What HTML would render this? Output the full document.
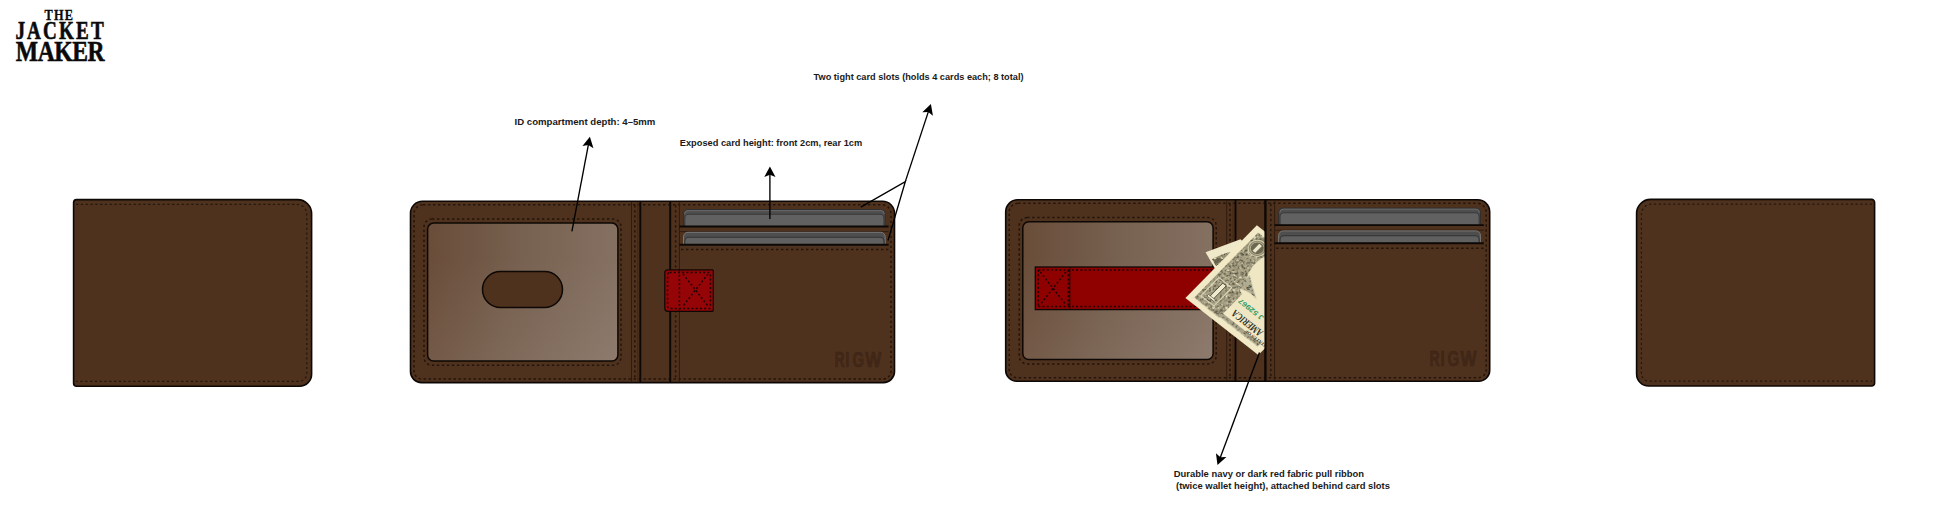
<!DOCTYPE html>
<html><head><meta charset="utf-8"><title>Wallet</title>
<style>
html,body{margin:0;padding:0;background:#fff;}
body{width:1946px;height:520px;overflow:hidden;position:relative;font-family:"Liberation Sans",sans-serif;}
svg{position:absolute;left:0;top:0;display:block;}
</style></head>
<body>
<svg width="1946" height="520" viewBox="0 0 1946 520">
<defs>
<linearGradient id="win" x1="0" y1="0" x2="1" y2="0">
<stop offset="0" stop-color="#694d39"/><stop offset="0.5" stop-color="#776150"/><stop offset="1" stop-color="#857162"/>
</linearGradient>
<linearGradient id="winv" x1="0" y1="0" x2="0" y2="1"><stop offset="0.25" stop-color="#fff" stop-opacity="0"/><stop offset="1" stop-color="#fff" stop-opacity="0.07"/></linearGradient>
<clipPath id="billclip" clipPathUnits="userSpaceOnUse"><rect x="1150" y="200" width="115.4" height="180"/></clipPath>
<filter id="engr" x="0" y="0" width="1" height="1" color-interpolation-filters="sRGB">
<feTurbulence type="fractalNoise" baseFrequency="0.42" numOctaves="2" seed="7" result="n"/>
<feColorMatrix in="n" type="matrix" values="0 0 0 0 0.35  0 0 0 0 0.335  0 0 0 0 0.26  4.5 0 0 0 -2.15" result="d"/>
<feComposite in="d" in2="SourceGraphic" operator="in" result="dm"/>
<feColorMatrix in="n" type="matrix" values="0 0 0 0 0.93  0 0 0 0 0.91  0 0 0 0 0.80  0 -4.5 0 0 2.0" result="l"/>
<feComposite in="l" in2="SourceGraphic" operator="in" result="lm"/>
<feMerge><feMergeNode in="SourceGraphic"/><feMergeNode in="lm"/><feMergeNode in="dm"/></feMerge>
</filter>
<filter id="engr2" x="0" y="0" width="1" height="1" color-interpolation-filters="sRGB">
<feTurbulence type="fractalNoise" baseFrequency="0.5" numOctaves="2" seed="11" result="n"/>
<feColorMatrix in="n" type="matrix" values="0 0 0 0 0.35  0 0 0 0 0.345  0 0 0 0 0.28  4.5 0 0 0 -2.4" result="d"/>
<feComposite in="d" in2="SourceGraphic" operator="in" result="dm"/>
<feMerge><feMergeNode in="SourceGraphic"/><feMergeNode in="dm"/></feMerge>
</filter>
</defs>
<text transform="translate(44.6,20.2) scale(0.82,1)" font-family="Liberation Serif, serif" font-weight="bold" font-size="15" textLength="34.6" lengthAdjust="spacing" fill="#0a0a0a" stroke="#0a0a0a" stroke-width="0.35">THE</text>
<text transform="translate(15.4,38.9) scale(0.78,1)" font-family="Liberation Serif, serif" font-weight="bold" font-size="24.5" textLength="113.3" lengthAdjust="spacing" fill="#0a0a0a" stroke="#0a0a0a" stroke-width="0.6">JACKET</text>
<text transform="translate(15.8,60.9) scale(0.8,1)" font-family="Liberation Serif, serif" font-weight="bold" font-size="29.5" textLength="111" lengthAdjust="spacing" fill="#0a0a0a" stroke="#0a0a0a" stroke-width="0.6">MAKER</text>
<text x="813.6" y="79.7" font-family="Liberation Sans, sans-serif" font-weight="bold" font-size="9.6" textLength="209.9" lengthAdjust="spacingAndGlyphs" fill="#1a1a1a">Two tight card slots (holds 4 cards each; 8 total)</text>
<text x="514.6" y="124.6" font-family="Liberation Sans, sans-serif" font-weight="bold" font-size="9.6" textLength="140.8" lengthAdjust="spacingAndGlyphs" fill="#1a1a1a">ID compartment depth: 4–5mm</text>
<text x="679.8" y="145.9" font-family="Liberation Sans, sans-serif" font-weight="bold" font-size="9.6" textLength="182.4" lengthAdjust="spacingAndGlyphs" fill="#1a1a1a">Exposed card height: front 2cm, rear 1cm</text>
<text x="1173.8" y="476.9" font-family="Liberation Sans, sans-serif" font-weight="bold" font-size="9.6" textLength="190.3" lengthAdjust="spacingAndGlyphs" fill="#1a1a1a">Durable navy or dark red fabric pull ribbon</text>
<text x="1176" y="489" font-family="Liberation Sans, sans-serif" font-weight="bold" font-size="9.6" textLength="214" lengthAdjust="spacingAndGlyphs" fill="#1a1a1a">(twice wallet height), attached behind card slots</text>
<path d="M76.60,199.60 H297.60 A14,14 0 0 1 311.60,213.60 V374.20 A12,12 0 0 1 299.60,386.20 H76.60 A3,3 0 0 1 73.60,383.20 V202.60 A3,3 0 0 1 76.60,199.60 Z" fill="#4f321e" stroke="#0d0805" stroke-width="1.6"/>
<path d="M76.1,204.4 H296.8 A10,10 0 0 1 306.8,214.4 V373.4 A8,8 0 0 1 298.8,381.4 H76.1" fill="none" stroke="#24160c" stroke-width="1.2" stroke-dasharray="2.2 2.6"/>
<path d="M1650.60,199.40 H1871.60 A3,3 0 0 1 1874.60,202.40 V383.00 A3,3 0 0 1 1871.60,386.00 H1648.60 A12,12 0 0 1 1636.60,374.00 V213.40 A14,14 0 0 1 1650.60,199.40 Z" fill="#4f321e" stroke="#0d0805" stroke-width="1.6"/>
<path d="M1872.1,204.20000000000002 H1651.3999999999999 A10,10 0 0 0 1641.3999999999999,214.20000000000002 V373.2 A8,8 0 0 0 1649.3999999999999,381.2 H1872.1" fill="none" stroke="#24160c" stroke-width="1.2" stroke-dasharray="2.2 2.6"/>
<path d="M422.50,201.20 H882.50 A12,12 0 0 1 894.50,213.20 V371.60 A11,11 0 0 1 883.50,382.60 H421.50 A11,11 0 0 1 410.50,371.60 V213.20 A12,12 0 0 1 422.50,201.20 Z" fill="#4f321e" stroke="#0d0805" stroke-width="1.6"/>
<path d="M423.00,204.70 H882.00 A9,9 0 0 1 891.00,213.70 V371.10 A8,8 0 0 1 883.00,379.10 H422.00 A8,8 0 0 1 414.00,371.10 V213.70 A9,9 0 0 1 423.00,204.70 Z" fill="none" stroke="#24140a" stroke-width="1.5" stroke-dasharray="2.4 2.6"/>
<path d="M432.00,219.00 H613.00 A8,8 0 0 1 621.00,227.00 V357.30 A8,8 0 0 1 613.00,365.30 H432.00 A8,8 0 0 1 424.00,357.30 V227.00 A8,8 0 0 1 432.00,219.00 Z" fill="none" stroke="#24140a" stroke-width="1.5" stroke-dasharray="2.4 2.6"/>
<path d="M433.60,223.10 H611.90 A6,6 0 0 1 617.90,229.10 V355.00 A6,6 0 0 1 611.90,361.00 H433.60 A6,6 0 0 1 427.60,355.00 V229.10 A6,6 0 0 1 433.60,223.10 Z" fill="url(#win)"/>
<path d="M433.60,223.10 H611.90 A6,6 0 0 1 617.90,229.10 V355.00 A6,6 0 0 1 611.90,361.00 H433.60 A6,6 0 0 1 427.60,355.00 V229.10 A6,6 0 0 1 433.60,223.10 Z" fill="url(#winv)" stroke="#0d0805" stroke-width="1.5"/>
<rect x="482.5" y="271.5" width="80" height="36" rx="18" fill="#4f321e" stroke="#0d0805" stroke-width="1.5"/>
<line x1="631.5" y1="202.2" x2="631.5" y2="381.6" stroke="#2a190c" stroke-width="0.9"/>
<path d="M634.8,205.2 V379.6" fill="none" stroke="#24140a" stroke-width="1.5" stroke-dasharray="2.4 2.6"/>
<line x1="637.8" y1="202.2" x2="637.8" y2="381.6" stroke="#3a2412" stroke-width="0.8"/>
<line x1="640.3" y1="201.2" x2="640.3" y2="382.6" stroke="#0d0805" stroke-width="1.9"/>
<line x1="670.2" y1="201.2" x2="670.2" y2="382.6" stroke="#0d0805" stroke-width="1.9"/>
<path d="M675.6,205.2 V379.6" fill="none" stroke="#24140a" stroke-width="1.5" stroke-dasharray="2.4 2.6"/>
<line x1="679.4" y1="202.2" x2="679.4" y2="381.6" stroke="#2a190c" stroke-width="0.9"/>
<path d="M688.00,209.50 H880.70 A4.5,4.5 0 0 1 885.20,214.00 V226.60 H683.50 V214.00 A4.5,4.5 0 0 1 688.00,209.50 Z" fill="#4e4e4e" stroke="#2e2e2e" stroke-width="1"/>
<path d="M684.6,214 Q684.6,210.6 688,210.6 H881 Q884.2,210.6 884.2,214" fill="none" stroke="#6c6c6c" stroke-width="0.9"/>
<path d="M688.80,214.20 H880.00 A4,4 0 0 1 884.00,218.20 V226.60 H684.80 V218.20 A4,4 0 0 1 688.80,214.20 Z" fill="#616161" stroke="#3a3a3a" stroke-width="1.1"/>
<line x1="679.4" y1="226.5" x2="888.6" y2="226.5" stroke="#0d0805" stroke-width="1.9"/>
<line x1="680" y1="231.6" x2="888.6" y2="231.6" stroke="#2a180c" stroke-width="0.8"/>
<path d="M688.00,232.30 H880.70 A4.5,4.5 0 0 1 885.20,236.80 V244.70 H683.50 V236.80 A4.5,4.5 0 0 1 688.00,232.30 Z" fill="#4e4e4e" stroke="#7a7a7a" stroke-width="1"/>
<path d="M688.80,237.20 H880.00 A4,4 0 0 1 884.00,241.20 V244.70 H684.80 V241.20 A4,4 0 0 1 688.80,237.20 Z" fill="#606060" stroke="#333333" stroke-width="1.1"/>
<line x1="679.4" y1="244.7" x2="888.6" y2="244.7" stroke="#0d0805" stroke-width="1.9"/>
<path d="M681,249.6 H889" fill="none" stroke="#24140a" stroke-width="1.5" stroke-dasharray="2.4 2.6"/>
<text transform="translate(834.4,366.9) scale(0.66,1)" font-family="Liberation Sans, sans-serif" font-weight="bold" font-size="21.3" fill="#422818" stroke="#3a2213" stroke-width="0.5">R</text>
<text transform="translate(845.2,366.9) scale(0.7,1)" font-family="Liberation Sans, sans-serif" font-weight="bold" font-size="21.3" fill="#422818" stroke="#3a2213" stroke-width="0.5">I</text>
<text transform="translate(852.4,366.9) scale(0.7,1)" font-family="Liberation Sans, sans-serif" font-weight="bold" font-size="21.3" fill="#422818" stroke="#3a2213" stroke-width="0.5">G</text>
<text transform="translate(865.3,366.9) scale(0.8,1)" font-family="Liberation Sans, sans-serif" font-weight="bold" font-size="21.3" fill="#422818" stroke="#3a2213" stroke-width="0.5">W</text>
<path d="M667.80,269.80 H712.30 A1,1 0 0 1 713.30,270.80 V310.30 A1,1 0 0 1 712.30,311.30 H667.80 A3,3 0 0 1 664.80,308.30 V272.80 A3,3 0 0 1 667.80,269.80 Z" fill="#950407" stroke="#0d0805" stroke-width="1.2"/>
<path d="M669.60,272.60 H709.40 A1,1 0 0 1 710.40,273.60 V307.50 A1,1 0 0 1 709.40,308.50 H669.60 A2,2 0 0 1 667.60,306.50 V274.60 A2,2 0 0 1 669.60,272.60 Z" fill="none" stroke="#1e0303" stroke-width="1.5" stroke-dasharray="2 2.2"/>
<path d="M679.4,270.5 V310.8" fill="none" stroke="#1e0303" stroke-width="1.5" stroke-dasharray="2 2.2"/>
<path d="M683,274 L708,306 M708,274 L683,306" fill="none" stroke="#1e0303" stroke-width="1.5" stroke-dasharray="2 2.2"/>
<g transform="translate(595.2,-1.4)"><path d="M422.50,201.20 H882.50 A12,12 0 0 1 894.50,213.20 V371.60 A11,11 0 0 1 883.50,382.60 H421.50 A11,11 0 0 1 410.50,371.60 V213.20 A12,12 0 0 1 422.50,201.20 Z" fill="#4f321e" stroke="#0d0805" stroke-width="1.6"/>
<path d="M423.00,204.70 H882.00 A9,9 0 0 1 891.00,213.70 V371.10 A8,8 0 0 1 883.00,379.10 H422.00 A8,8 0 0 1 414.00,371.10 V213.70 A9,9 0 0 1 423.00,204.70 Z" fill="none" stroke="#24140a" stroke-width="1.5" stroke-dasharray="2.4 2.6"/>
<path d="M432.00,219.00 H613.00 A8,8 0 0 1 621.00,227.00 V357.30 A8,8 0 0 1 613.00,365.30 H432.00 A8,8 0 0 1 424.00,357.30 V227.00 A8,8 0 0 1 432.00,219.00 Z" fill="none" stroke="#24140a" stroke-width="1.5" stroke-dasharray="2.4 2.6"/>
<path d="M433.60,223.10 H611.90 A6,6 0 0 1 617.90,229.10 V355.00 A6,6 0 0 1 611.90,361.00 H433.60 A6,6 0 0 1 427.60,355.00 V229.10 A6,6 0 0 1 433.60,223.10 Z" fill="url(#win)"/>
<path d="M433.60,223.10 H611.90 A6,6 0 0 1 617.90,229.10 V355.00 A6,6 0 0 1 611.90,361.00 H433.60 A6,6 0 0 1 427.60,355.00 V229.10 A6,6 0 0 1 433.60,223.10 Z" fill="url(#winv)" stroke="#0d0805" stroke-width="1.5"/>
<line x1="631.5" y1="202.2" x2="631.5" y2="381.6" stroke="#2a190c" stroke-width="0.9"/>
<path d="M634.8,205.2 V379.6" fill="none" stroke="#24140a" stroke-width="1.5" stroke-dasharray="2.4 2.6"/>
<line x1="637.8" y1="202.2" x2="637.8" y2="381.6" stroke="#3a2412" stroke-width="0.8"/>
<line x1="640.3" y1="201.2" x2="640.3" y2="382.6" stroke="#0d0805" stroke-width="1.9"/>
<line x1="670.2" y1="201.2" x2="670.2" y2="382.6" stroke="#0d0805" stroke-width="1.9"/>
<path d="M675.6,205.2 V379.6" fill="none" stroke="#24140a" stroke-width="1.5" stroke-dasharray="2.4 2.6"/>
<line x1="679.4" y1="202.2" x2="679.4" y2="381.6" stroke="#2a190c" stroke-width="0.9"/>
<path d="M688.00,209.50 H880.70 A4.5,4.5 0 0 1 885.20,214.00 V226.60 H683.50 V214.00 A4.5,4.5 0 0 1 688.00,209.50 Z" fill="#4e4e4e" stroke="#2e2e2e" stroke-width="1"/>
<path d="M684.6,214 Q684.6,210.6 688,210.6 H881 Q884.2,210.6 884.2,214" fill="none" stroke="#6c6c6c" stroke-width="0.9"/>
<path d="M688.80,214.20 H880.00 A4,4 0 0 1 884.00,218.20 V226.60 H684.80 V218.20 A4,4 0 0 1 688.80,214.20 Z" fill="#616161" stroke="#3a3a3a" stroke-width="1.1"/>
<line x1="679.4" y1="226.5" x2="888.6" y2="226.5" stroke="#0d0805" stroke-width="1.9"/>
<line x1="680" y1="231.6" x2="888.6" y2="231.6" stroke="#2a180c" stroke-width="0.8"/>
<path d="M688.00,232.30 H880.70 A4.5,4.5 0 0 1 885.20,236.80 V244.70 H683.50 V236.80 A4.5,4.5 0 0 1 688.00,232.30 Z" fill="#4e4e4e" stroke="#7a7a7a" stroke-width="1"/>
<path d="M688.80,237.20 H880.00 A4,4 0 0 1 884.00,241.20 V244.70 H684.80 V241.20 A4,4 0 0 1 688.80,237.20 Z" fill="#606060" stroke="#333333" stroke-width="1.1"/>
<line x1="679.4" y1="244.7" x2="888.6" y2="244.7" stroke="#0d0805" stroke-width="1.9"/>
<path d="M681,249.6 H889" fill="none" stroke="#24140a" stroke-width="1.5" stroke-dasharray="2.4 2.6"/>
<text transform="translate(834.4,366.9) scale(0.66,1)" font-family="Liberation Sans, sans-serif" font-weight="bold" font-size="21.3" fill="#422818" stroke="#3a2213" stroke-width="0.5">R</text>
<text transform="translate(845.2,366.9) scale(0.7,1)" font-family="Liberation Sans, sans-serif" font-weight="bold" font-size="21.3" fill="#422818" stroke="#3a2213" stroke-width="0.5">I</text>
<text transform="translate(852.4,366.9) scale(0.7,1)" font-family="Liberation Sans, sans-serif" font-weight="bold" font-size="21.3" fill="#422818" stroke="#3a2213" stroke-width="0.5">G</text>
<text transform="translate(865.3,366.9) scale(0.8,1)" font-family="Liberation Sans, sans-serif" font-weight="bold" font-size="21.3" fill="#422818" stroke="#3a2213" stroke-width="0.5">W</text>
<rect x="440.0999999999999" y="268.40000000000003" width="204.70000000000005" height="42.599999999999966" fill="#8f0101" stroke="#0d0805" stroke-width="1.3"/>
<path d="M443.0999999999999,271.40000000000003 H644.8 M443.0999999999999,308.0 H644.8 M443.0999999999999,271.40000000000003 V308.0" fill="none" stroke="#1e0303" stroke-width="1.5" stroke-dasharray="2 2.2"/>
<line x1="474.5999999999999" y1="268.40000000000003" x2="474.5999999999999" y2="311.0" stroke="#0d0805" stroke-width="1"/>
<path d="M473.0999999999999,271.40000000000003 V308.0" fill="none" stroke="#1e0303" stroke-width="1.5" stroke-dasharray="2 2.2"/>
<path d="M445.0999999999999,273.40000000000003 L470.5999999999999,306.0 M470.5999999999999,273.40000000000003 L445.0999999999999,306.0" fill="none" stroke="#1e0303" stroke-width="1.5" stroke-dasharray="2 2.2"/></g>
<g clip-path="url(#billclip)">
<polygon points="1205.6,252.3 1240.5,239.2 1262,262 1226,288" fill="#f0e9c9"/>
<polygon points="1212,259 1222,254.5 1230,252 1233,256 1216,266" fill="#9c9679" filter="url(#engr)"/>
<polygon points="1214,260 1220,257.5 1222,261 1216,264" fill="#5f5b46" opacity="0.8"/>
<g transform="matrix(0.7007,-0.71346,0.78865,0.61484,1185.4,298.1)">
<rect x="0" y="0" width="102" height="92.5" fill="#f2eac6"/>
<rect x="22" y="26" width="80" height="60" fill="#efe7c3"/>
<path d="M6,6 H97 V24 Q92,30 80,27 Q66,24 56,29 Q46,34 40,33 L38,38 H5.5 Z" fill="#aaa386" filter="url(#engr)"/>
<path d="M40,30 Q46,42 43,52 Q50,40 58,30 Z" fill="#b1ae94" filter="url(#engr2)"/>
<rect x="6.5" y="36" width="4.5" height="50" fill="#aba58b" filter="url(#engr2)"/>
<text x="0" y="0" font-family="Liberation Serif, serif" font-weight="bold" font-size="4.8" fill="#3a392f" transform="translate(13,92) rotate(-90)" textLength="26" lengthAdjust="spacingAndGlyphs">STATES OF</text>
<text x="0" y="0" font-family="Liberation Serif, serif" font-weight="bold" font-size="10.5" fill="#34332a" transform="translate(21.8,80) rotate(-90)" textLength="36" lengthAdjust="spacingAndGlyphs">AMERICA</text>
<path d="M11.5,9.5 H37 V26 H11.5 Z" fill="none" stroke="#dcd7b9" stroke-width="1.1"/>
<rect x="15.5" y="16.3" width="19.5" height="4.4" fill="#f0ebcf" stroke="#4d4b3b" stroke-width="0.8"/>
<rect x="15" y="14" width="2.2" height="9" fill="#f0ebcf" stroke="#4d4b3b" stroke-width="0.6"/>
<circle cx="84" cy="16.5" r="8.6" fill="#8c876c" stroke="#d6d0ae" stroke-width="1"/>
<circle cx="84" cy="16.5" r="6.6" fill="#6c6852" stroke="#cbc5a3" stroke-width="0.7"/>
<rect x="79.2" y="14.8" width="9.6" height="3.4" fill="#eee8cb"/>
<text x="0" y="0" font-family="Liberation Sans, sans-serif" font-weight="bold" font-size="7" fill="#4a483a" transform="translate(50,40) rotate(-90)">2</text>
<text x="0" y="0" font-family="Liberation Sans, sans-serif" font-weight="bold" font-size="7" fill="#2f9a63" transform="translate(34,70) rotate(-90)" textLength="30" lengthAdjust="spacingAndGlyphs">J 52967</text>
</g></g>
<line x1="1265.4" y1="199.8" x2="1265.4" y2="381.2" stroke="#0d0805" stroke-width="1.9"/>
<line x1="571.90" y1="231.40" x2="588.44" y2="144.46" stroke="#000" stroke-width="1.35"/><path d="M589.90,136.80 L593.44,148.16 L588.35,144.95 L582.44,146.07 Z" fill="#000"/>
<line x1="769.90" y1="219.00" x2="769.90" y2="174.30" stroke="#000" stroke-width="1.35"/><path d="M769.90,166.50 L775.50,177.00 L769.90,174.80 L764.30,177.00 Z" fill="#000"/>
<polyline points="860.8,207.2 905.3,181.6 888,240.5" fill="none" stroke="#000" stroke-width="1.35"/>
<line x1="905.30" y1="181.60" x2="928.46" y2="111.41" stroke="#000" stroke-width="1.35"/><path d="M930.90,104.00 L932.93,115.73 L928.30,111.88 L922.29,112.22 Z" fill="#000"/>
<line x1="1259.50" y1="352.50" x2="1220.23" y2="457.69" stroke="#000" stroke-width="1.35"/><path d="M1217.50,465.00 L1215.93,453.20 L1220.40,457.22 L1226.42,457.12 Z" fill="#000"/>
</svg>
</body></html>
